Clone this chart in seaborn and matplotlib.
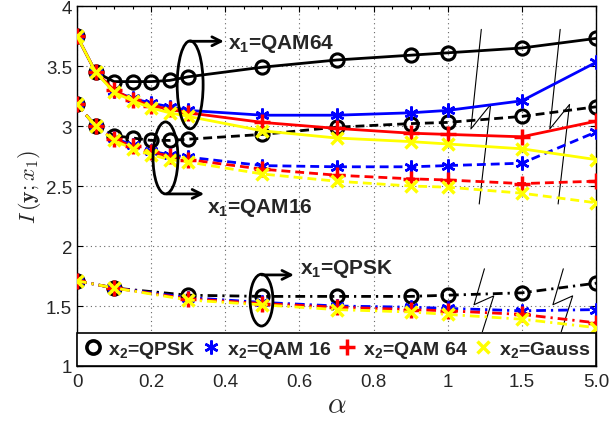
import numpy as np
import pandas as pd
import matplotlib
matplotlib.use("Agg")
import matplotlib.pyplot as plt
import seaborn as sns
from matplotlib.patches import Ellipse
from matplotlib.lines import Line2D

# alpha values (x axis is broken after 1: 1.5 and 5.0 get one tick step each)
alpha_dense = [0.0, 0.05, 0.1, 0.15, 0.2, 0.25, 0.3, 0.5, 0.7, 0.9, 1.0, 1.5, 5.0]
alpha_qpsk = [0.0, 0.1, 0.3, 0.5, 0.7, 0.9, 1.0, 1.5, 5.0]

# x1 = QAM64
qam64_qpsk = [3.75, 3.45, 3.37, 3.37, 3.37, 3.38, 3.41, 3.49, 3.55, 3.59, 3.61, 3.65, 3.73]
qam64_qam16 = [3.75, 3.45, 3.29, 3.23, 3.19, 3.16, 3.13, 3.09, 3.09, 3.11, 3.13, 3.21, 3.53]
qam64_qam64 = [3.75, 3.45, 3.30, 3.22, 3.17, 3.14, 3.11, 3.03, 2.98, 2.94, 2.93, 2.91, 3.04]
qam64_gauss = [3.75, 3.45, 3.28, 3.21, 3.15, 3.11, 3.08, 2.96, 2.90, 2.87, 2.85, 2.81, 2.72]

# x1 = QAM16
qam16_qpsk = [3.18, 3.00, 2.92, 2.90, 2.88, 2.88, 2.89, 2.93, 2.99, 3.02, 3.03, 3.08, 3.16]
qam16_qam16 = [3.18, 3.00, 2.90, 2.84, 2.79, 2.76, 2.74, 2.67, 2.66, 2.66, 2.67, 2.69, 2.95]
qam16_qam64 = [3.18, 3.00, 2.89, 2.83, 2.78, 2.75, 2.72, 2.64, 2.59, 2.56, 2.55, 2.52, 2.54]
qam16_gauss = [3.18, 3.00, 2.88, 2.81, 2.76, 2.72, 2.70, 2.60, 2.54, 2.50, 2.49, 2.44, 2.36]

# x1 = QPSK
qpsk_qpsk = [1.71, 1.65, 1.59, 1.58, 1.58, 1.58, 1.59, 1.61, 1.69]
qpsk_qam16 = [1.71, 1.65, 1.57, 1.53, 1.50, 1.49, 1.48, 1.46, 1.47]
qpsk_qam64 = [1.71, 1.65, 1.56, 1.52, 1.49, 1.47, 1.46, 1.43, 1.36]
qpsk_gauss = [1.71, 1.65, 1.55, 1.51, 1.47, 1.45, 1.43, 1.39, 1.32]

x_ticks = [0, 0.2, 0.4, 0.6, 0.8, 1.0, 1.5, 5.0]
x_tick_labels = ["0", "0.2", "0.4", "0.6", "0.8", "1", "1.5", "5.0"]
y_ticks = [1, 1.5, 2, 2.5, 3, 3.5, 4]
y_tick_labels = ["1", "1.5", "2", "2.5", "3", "3.5", "4"]
x2_names = ["QPSK", "QAM 16", "QAM 64", "Gauss"]

sns.set_style("ticks")
plt.rcParams["font.family"] = ["Liberation Sans", "DejaVu Sans"]
plt.rcParams["mathtext.fontset"] = "custom"
plt.rcParams["mathtext.rm"] = "Liberation Sans"
plt.rcParams["mathtext.bf"] = "Liberation Sans:bold"
plt.rcParams["mathtext.it"] = "Liberation Sans:italic"

fig = plt.figure(figsize=(6.09, 4.27), dpi=100)
ax = fig.add_axes([77 / 609, 60 / 427, 519 / 609, 360 / 427])

# broken x axis: 0..1 linear, then 1.5 and 5.0 one step each
brk_a = [-100, 0, 1, 1.5, 5, 100]
brk_p = [-500, 0, 5, 6, 7, 7 + 95 / 3.5]


def fwd(a):
    return np.interp(a, brk_a, brk_p)


def inv(p):
    return np.interp(p, brk_p, brk_a)


ax.set_xscale("function", functions=(fwd, inv))

colors = ["black", "#0000ff", "#ff0000", "#ffff00"]
markers = ["o", (6, 2, 0), "+", "x"]
msizes = [9.5, 10, 11, 9]
mews = [2.2, 1.8, 2.5, 2.5]

groups = [
    (alpha_dense, [qam64_qpsk, qam64_qam16, qam64_qam64, qam64_gauss], "-"),
    (alpha_dense, [qam16_qpsk, qam16_qam16, qam16_qam64, qam16_gauss], (0, (3.2, 1.8))),
    (alpha_qpsk, [qpsk_qpsk, qpsk_qam16, qpsk_qam64, qpsk_gauss], (0, (3.5, 1.8, 0.8, 1.8))),
]

for xs, series, ls in groups:
    for i, ys in enumerate(series):
        sns.lineplot(x=xs, y=ys, ax=ax, estimator=None, sort=False,
                     color=colors[i], lw=2, linestyle=ls,
                     marker=markers[i], ms=msizes[i],
                     mfc="none" if i == 0 else colors[i],
                     mec=colors[i], mew=mews[i], zorder=3 + i)

ax.set_xlim(0, 5)
ax.set_ylim(1, 4)
ax.set_xticks(x_ticks)
ax.set_xticklabels(x_tick_labels)
ax.xaxis.set_minor_locator(matplotlib.ticker.FixedLocator(np.arange(0, 1, 0.05)))
ax.xaxis.set_minor_formatter(matplotlib.ticker.NullFormatter())
ax.set_yticks(y_ticks)
ax.set_yticklabels(y_tick_labels)
ax.tick_params(which="both", direction="in", top=True, right=True, labelsize=13.5,
               width=0.8, color="black")
ax.tick_params(which="major", length=4)
ax.tick_params(which="minor", length=2)
ax.tick_params(axis="x", pad=5)
ax.grid(True, which="major", linestyle=(0, (1, 3)), color="#666666", lw=0.8)
for s in ax.spines.values():
    s.set_color("black")
    s.set_linewidth(1.0)

ax.set_xlabel(r"$\alpha$", fontsize=21, math_fontfamily="cm", labelpad=0)
ax.set_ylabel(r"$I\,(\mathbf{y};x_1)$", fontsize=16, math_fontfamily="cm", labelpad=2)

# break marks on the x axis
def zigzag(xc, ytop, ybot):
    ym = (ytop + ybot) / 2
    h = (ytop - ybot)
    xs = [xc + 0.004, xc - 0.016, xc + 0.022, xc]
    ys = [ytop, ym - 0.07 * h, ym + 0.07 * h, ybot]
    ax.plot(xs, ys, color="black", lw=0.8, transform=ax.transAxes, zorder=2)


for xc in [0.775, 0.927]:
    zigzag(xc, 0.935, 0.45)
    zigzag(xc + 0.006, 0.27, 0.095)

# ellipses + arrows + labels
notes = [
    ((0.218, 0.781), 0.050, 0.244, (0.218, 0.902), (0.283, 0.902), (0.291, 0.897), "QAM64"),
    ((0.1705, 0.578), 0.048, 0.200, (0.173, 0.478), (0.245, 0.478), (0.250, 0.442), "QAM16"),
    ((0.3555, 0.183), 0.044, 0.144, (0.356, 0.253), (0.418, 0.253), (0.430, 0.272), "QPSK"),
]
for c, w, h, start, tip, tpos, name in notes:
    ax.add_patch(Ellipse(c, w, h, transform=ax.transAxes, fill=False, ec="black", lw=2, zorder=8))
    ax.annotate("", xy=tip, xytext=start, xycoords="axes fraction",
                arrowprops=dict(arrowstyle="->", lw=2, color="black", shrinkA=0, shrinkB=0,
                                mutation_scale=16), zorder=8)
    ax.text(tpos[0], tpos[1], r"$\mathbf{x_1}$=" + name, transform=ax.transAxes,
            fontsize=15, fontweight="bold", va="center", ha="left", zorder=8)

handles = []
for i in range(4):
    handles.append(Line2D([], [], lw=0, marker=markers[i], ms=msizes[i],
                          mfc="none" if i == 0 else colors[i], mec=colors[i],
                          mew=mews[i] + (0.4 if i == 0 else 0)))
labels = [r"$\mathbf{x_2}$=" + n for n in x2_names]
leg = ax.legend(handles, labels, loc="lower left", bbox_to_anchor=(0, 0, 1, 0.094),
                mode="expand", ncol=4, borderaxespad=0, fancybox=False,
                edgecolor="black", framealpha=1, handlelength=1.0, handletextpad=0.3,
                prop={"weight": "bold", "size": 14}, borderpad=0.3)
leg.get_frame().set_linewidth(1.2)
leg.set_zorder(20)

fig.savefig("out.png", dpi=100)
